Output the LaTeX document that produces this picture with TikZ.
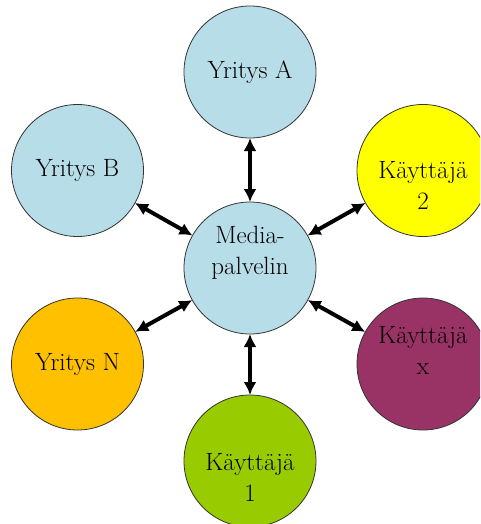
\documentclass[tikz,border=0pt]{standalone}
\usetikzlibrary{arrows.meta}

\definecolor{palvelinblue}{RGB}{183,221,232}
\definecolor{kayttajayellow}{RGB}{255,255,0}
\definecolor{yritysgold}{RGB}{255,192,0}
\definecolor{kayttajaplum}{RGB}{153,51,102}
\definecolor{kayttajagreen}{RGB}{153,204,0}

\tikzset{
  hub/.style={circle,draw=black!80,line width=0.8pt,minimum size=132pt,
    inner sep=0pt,outer sep=0pt,align=center,
    font=\fontsize{25}{30}\selectfont},
  hublabel/.style={align=center,font=\fontsize{25}{31}\selectfont},
  link/.style={line width=4pt,{Latex[length=13pt,width=13pt]}-{Latex[length=13pt,width=13pt]}},
}

\begin{document}
\begin{tikzpicture}[x=1pt,y=-1pt]
\useasboundingbox (0,0) rectangle (480,524);
\clip (0,0) rectangle (480,524);
\node[hub,fill=palvelinblue] (media) at (250,268)
  {}; 
\node[hublabel] (media-text) at ([yshift=15pt]media.center) {Media-\\palvelin};
\node[hub,fill=palvelinblue] (yritysA) at (250,72) {Yritys A};
\node[hub,fill=palvelinblue] (yritysB) at (77.5,170.5) {Yritys B};
\node[hub,fill=yritysgold] (yritysN) at (77.5,364) {Yritys N};
\node[hub,fill=kayttajayellow] (kayttaja2) at (423,170.5) {};
\node[hublabel] (kayttaja2-text) at ([yshift=-15pt]kayttaja2.center) {Käyttäjä\\2};
\node[hub,fill=kayttajaplum] (kayttajax) at (423,364) {};
\node[hublabel] (kayttajax-text) at ([yshift=14pt]kayttajax.center) {Käyttäjä\\x};
\node[hub,fill=kayttajagreen] (kayttaja1) at (250,461) {};
\node[hublabel] (kayttaja1-text) at ([yshift=-16pt]kayttaja1.center) {Käyttäjä\\1};

\foreach \other in {yritysA,yritysB,yritysN,kayttaja2,kayttajax,kayttaja1}
  \draw[link] (media) -- (\other);
\end{tikzpicture}
\end{document}
